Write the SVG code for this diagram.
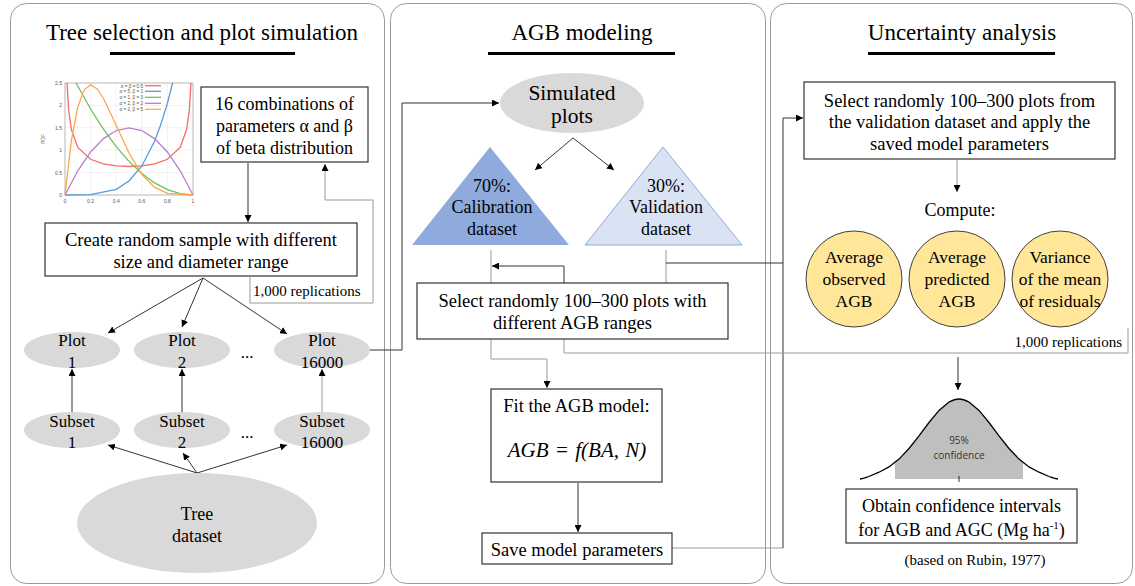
<svg xmlns="http://www.w3.org/2000/svg" width="1135" height="586" viewBox="0 0 1135 586">
<defs>
<marker id="ah" markerWidth="7" markerHeight="7" refX="7" refY="3.5" orient="auto" markerUnits="userSpaceOnUse"><path d="M0,0 L7,3.5 L0,7 z" fill="#000"/></marker>
<style>
.panel{fill:#fff;stroke:#9a9a9a;stroke-width:1}
.h{font-family:"Liberation Serif",serif;font-size:23px;fill:#000;text-anchor:middle}
.t{font-family:"Liberation Serif",serif;font-size:18px;fill:#000;text-anchor:middle}
.tb{font-family:"Liberation Serif",serif;font-size:18.5px;fill:#000;text-anchor:middle}
.tc{font-family:"Liberation Serif",serif;font-size:17.5px;fill:#000;text-anchor:middle}
.tp{font-family:"Liberation Serif",serif;font-size:17px;fill:#000;text-anchor:middle}
.sm{font-family:"Liberation Serif",serif;font-size:15px;fill:#000}
.box{fill:#fff;stroke:#333;stroke-width:1.2}
.ell{fill:#d9d9d9}
.circ{fill:#ffe699;stroke:#404040;stroke-width:1}
.c{fill:none;stroke:#333;stroke-width:1}
.cg{fill:none;stroke:#9a9a9a;stroke-width:1}
.ul{stroke:#000;stroke-width:3}
.ax{font-family:"Liberation Sans",sans-serif;font-size:5px;fill:#555}
.grid{stroke:#e6e6e6;stroke-width:0.5}
.curve{fill:none;stroke-width:1.3}
</style>
</defs>
<rect width="1135" height="586" fill="#fff"/>

<g id="panels">
<rect class="panel" x="10.5" y="3.5" width="374" height="580" rx="16"/>
<rect class="panel" x="390.5" y="3.5" width="375" height="580" rx="16"/>
<rect class="panel" x="770.5" y="3.5" width="362" height="580" rx="16"/>
<text class="h" x="202" y="40">Tree selection and plot simulation</text>
<line class="ul" x1="110" y1="53.5" x2="295" y2="53.5"/>
<text class="h" x="582" y="40">AGB modeling</text>
<line class="ul" x1="488" y1="53.5" x2="675" y2="53.5"/>
<text class="h" x="962" y="40">Uncertainty analysis</text>
<line class="ul" x1="868" y1="53.5" x2="1055" y2="53.5"/>
</g>

<g id="beta-chart">
<g class="grid">
<line x1="90.6" y1="83" x2="90.6" y2="195"/><line x1="116.2" y1="83" x2="116.2" y2="195"/>
<line x1="141.8" y1="83" x2="141.8" y2="195"/><line x1="167.4" y1="83" x2="167.4" y2="195"/>
<line x1="65" y1="105.4" x2="193" y2="105.4"/><line x1="65" y1="127.8" x2="193" y2="127.8"/>
<line x1="65" y1="150.2" x2="193" y2="150.2"/><line x1="65" y1="172.6" x2="193" y2="172.6"/>
</g>
<rect x="65" y="83" width="128" height="112" fill="none" stroke="#888" stroke-width="0.6"/>
<g class="ax" text-anchor="end">
<text x="62" y="85">2.5</text><text x="62" y="107">2</text><text x="62" y="130">1.5</text>
<text x="62" y="152">1</text><text x="62" y="175">0.5</text><text x="62" y="197">0</text>
</g>
<g class="ax" text-anchor="middle">
<text x="65" y="203">0</text><text x="90.6" y="203">0.2</text><text x="116.2" y="203">0.4</text>
<text x="141.8" y="203">0.6</text><text x="167.4" y="203">0.8</text><text x="193" y="203">1</text>
<text x="0" y="0" transform="translate(45,139) rotate(-90)">PDF</text>
</g>
<polyline class="curve" stroke="#f36b6b" points="67,83 67.6,93.1 68.8,111.4 71.4,129.5 77.8,147.5 90.6,159.3 103.4,163.9 116.2,165.9 129,166.5 141.8,165.9 154.6,163.9 167.4,159.3 180.2,147.5 186.6,129.5 189.2,111.4 190.4,93.1 191,83"/>
<polyline class="curve" stroke="#5b9bd5" points="65,195 90.6,194.6 116.2,189.3 129,181 141.8,166 154.6,141.2 161,124.1 167.4,103.2 172.6,83"/>
<polyline class="curve" stroke="#6fbf5f" points="76.1,83 90.6,109 103.4,129.1 116.2,146.6 129,161.4 141.8,173.5 154.6,182.9 167.4,189.6 180.2,193.7 193,195"/>
<polyline class="curve" stroke="#b57fd0" points="65,195 77.8,170.8 90.6,152 103.4,138.6 116.2,130.5 129,127.8 141.8,130.5 154.6,138.6 167.4,152 180.2,170.8 193,195"/>
<polyline class="curve" stroke="#ffa64d" points="65,195 71.4,140.3 77.8,106.8 84.2,89.8 90.6,84.9 97,88.7 103.4,98.2 116.2,125.3 129,153 141.8,174.3 154.6,187.4 167.4,193.3 193,195"/>
<g class="ax" text-anchor="end" style="font-size:4.6px">
<text x="143" y="87.5">α = β = 0.5</text>
<text x="143" y="93">α = 5, β = 1</text>
<text x="143" y="99">α = 1, β = 3</text>
<text x="143" y="105">α = 2, β = 2</text>
<text x="143" y="111">α = 2, β = 5</text>
</g>
<line x1="145" y1="85.7" x2="161" y2="85.7" stroke="#f36b6b" stroke-width="1.3"/>
<line x1="145" y1="91.3" x2="161" y2="91.3" stroke="#5b9bd5" stroke-width="1.3"/>
<line x1="145" y1="97.3" x2="161" y2="97.3" stroke="#6fbf5f" stroke-width="1.3"/>
<line x1="145" y1="103.3" x2="161" y2="103.3" stroke="#b57fd0" stroke-width="1.3"/>
<line x1="145" y1="109.3" x2="161" y2="109.3" stroke="#ffa64d" stroke-width="1.3"/>
</g>

<g id="connectors">
<path class="c" d="M248,163 L248,222" marker-end="url(#ah)"/>
<path class="cg" d="M250,277 L250,303 L373,303 L373,200 L325,200 L325,164" marker-end="url(#ah)"/>
<path class="c" d="M203,278 L108,333" marker-end="url(#ah)"/>
<path class="c" d="M203,278 L182,327" marker-end="url(#ah)"/>
<path class="c" d="M203,278 L287,334" marker-end="url(#ah)"/>
<path class="c" d="M72,412 L72,369" marker-end="url(#ah)"/>
<path class="c" d="M182,412 L182,369" marker-end="url(#ah)"/>
<path class="cg" d="M322,412 L322,369" marker-end="url(#ah)"/>
<path class="c" d="M197,473 L108,445" marker-end="url(#ah)"/>
<path class="c" d="M197,473 L183,453" marker-end="url(#ah)"/>
<path class="c" d="M197,473 L287,445" marker-end="url(#ah)"/>
<path class="c" d="M370,350 L402,350 L402,103 L499,103" marker-end="url(#ah)"/>
<path class="c" d="M573,138 L535,170" marker-end="url(#ah)"/>
<path class="c" d="M573,138 L614,170" marker-end="url(#ah)"/>
<path class="cg" d="M491,250 L491,283"/>
<path class="c" d="M564,283 L564,266 L492,266" marker-end="url(#ah)"/>
<path class="cg" d="M666,250 L666,283"/>
<path class="c" d="M666,263 L783,263"/>
<path class="cg" d="M491,339 L491,359 L547,359 L547,388" marker-end="url(#ah)"/>
<path class="c" d="M578,483 L578,532" marker-end="url(#ah)"/>
<path class="cg" d="M672,548 L783,548"/>
<path class="c" d="M783,548 L783,118 L803,118" marker-end="url(#ah)"/>
<path class="cg" d="M564,339 L564,353 L1128,353 L1128,328"/>
<path class="cg" d="M957,160 L957,192" marker-end="url(#ah)"/>
<path class="c" d="M958,357 L958,390" marker-end="url(#ah)"/>
</g>

<g id="n-combinations">
<rect class="box" x="201" y="87" width="167" height="75"/>
<text class="t" x="284.5" y="110">16 combinations of</text>
<text class="t" x="284.5" y="132">parameters α and β</text>
<text class="t" x="284.5" y="154">of beta distribution</text>
</g>
<g id="n-create">
<rect class="box" x="45" y="223" width="312" height="53"/>
<text class="tb" x="201" y="246">Create random sample with different</text>
<text class="tb" x="201" y="268">size and diameter range</text>
</g>
<text class="sm" x="253" y="296">1,000 replications</text>

<g id="n-plot1"><ellipse class="ell" cx="72" cy="350" rx="48" ry="18"/>
<text class="tp" x="72" y="346">Plot</text><text class="tp" x="72" y="368">1</text></g>
<g id="n-plot2"><ellipse class="ell" cx="182" cy="350" rx="48" ry="18"/>
<text class="tp" x="182" y="346">Plot</text><text class="tp" x="182" y="368">2</text></g>
<text class="tp" x="247" y="358">...</text>
<g id="n-plot16000"><ellipse class="ell" cx="322" cy="350" rx="48" ry="18"/>
<text class="tp" x="322" y="346">Plot</text><text class="tp" x="322" y="368">16000</text></g>

<g id="n-subset1"><ellipse class="ell" cx="72" cy="430" rx="48" ry="18"/>
<text class="tp" x="72" y="427">Subset</text><text class="tp" x="72" y="448">1</text></g>
<g id="n-subset2"><ellipse class="ell" cx="182" cy="430" rx="48" ry="18"/>
<text class="tp" x="182" y="427">Subset</text><text class="tp" x="182" y="448">2</text></g>
<text class="tp" x="247" y="438">...</text>
<g id="n-subset16000"><ellipse class="ell" cx="322" cy="430" rx="48" ry="18"/>
<text class="tp" x="322" y="427">Subset</text><text class="tp" x="322" y="448">16000</text></g>

<g id="n-tree"><ellipse class="ell" cx="197" cy="523" rx="120" ry="50"/>
<text class="t" x="197" y="520">Tree</text><text class="t" x="197" y="542">dataset</text></g>

<g id="n-simulated"><ellipse class="ell" cx="572" cy="103" rx="72" ry="30"/>
<text class="t" x="572" y="100" style="font-size:21.5px">Simulated</text><text class="t" x="572" y="123" style="font-size:21.5px">plots</text></g>

<g id="n-calibration"><polygon points="412,245 490,147 569,245" fill="#8faadc"/>
<text class="t" x="492" y="192">70%:</text><text class="t" x="492" y="213">Calibration</text><text class="t" x="492" y="235">dataset</text></g>
<g id="n-validation"><polygon points="585,245 663,147 742,245" fill="#dae3f3" stroke="#8faadc" stroke-width="1"/>
<text class="t" x="666" y="192">30%:</text><text class="t" x="666" y="213">Validation</text><text class="t" x="666" y="235">dataset</text></g>

<g id="n-select-mid">
<rect class="box" x="417" y="283" width="311" height="56"/>
<text class="tb" x="572.5" y="307">Select randomly 100–300 plots with</text>
<text class="tb" x="572.5" y="329">different AGB ranges</text>
</g>
<g id="n-fit">
<rect class="box" x="491" y="389" width="171" height="93" stroke="#666"/>
<text class="tb" x="576.5" y="412">Fit the AGB model:</text>
<text class="t" x="577" y="457" style="font-size:21px;font-style:italic;word-spacing:1px">AGB = f(BA, N)</text>
</g>
<g id="n-save">
<rect class="box" x="482" y="533" width="190" height="31"/>
<text class="tb" x="577" y="556">Save model parameters</text>
</g>

<g id="n-select-right">
<rect class="box" x="804" y="82" width="311" height="77"/>
<text class="tb" x="959.5" y="107">Select randomly 100–300 plots from</text>
<text class="tb" x="959.5" y="128">the validation dataset and apply the</text>
<text class="tb" x="959.5" y="150">saved model parameters</text>
</g>
<text class="t" x="960" y="216">Compute:</text>
<g id="n-avg-obs"><circle class="circ" cx="854" cy="279" r="48"/>
<text class="tc" x="854" y="263">Average</text><text class="tc" x="854" y="285">observed</text><text class="tc" x="854" y="307">AGB</text></g>
<g id="n-avg-pred"><circle class="circ" cx="957" cy="279" r="48"/>
<text class="tc" x="957" y="263">Average</text><text class="tc" x="957" y="285">predicted</text><text class="tc" x="957" y="307">AGB</text></g>
<g id="n-variance"><circle class="circ" cx="1060" cy="279" r="48"/>
<text class="tc" x="1060" y="263">Variance</text><text class="tc" x="1060" y="285">of the mean</text><text class="tc" x="1060" y="307">of residuals</text></g>
<text class="sm" x="1122" y="347" text-anchor="end">1,000 replications</text>

<g id="n-bell">
<path d="M895,479 L895,462.5 L899,459.1 L909,448.5 L919,435.9 L929,422.5 L939,410.4 L949,402 L959,399 L969,402 L979,410.4 L989,422.5 L999,435.9 L1009,448.5 L1019,459.1 L1023,462.5 L1023,479 Z" fill="#bfbfbf"/>
<path d="M860,479 C864,478.5 866,477.5 869,476.5 L879,472.2 L889,466.9 L899,459.1 L909,448.5 L919,435.9 L929,422.5 L939,410.4 L949,402 C953,400 956,399 959,399 C962,399 965,400 969,402 L979,410.4 L989,422.5 L999,435.9 L1009,448.5 L1019,459.1 L1029,466.9 L1039,472.2 L1049,476.5 C1052,477.5 1054,478.5 1058,479" fill="none" stroke="#000" stroke-width="1.3"/>
<line x1="959" y1="476" x2="959" y2="482" stroke="#000" stroke-width="0.8"/>
<text x="959" y="444" text-anchor="middle" font-family="'Open Sans','Liberation Sans',sans-serif" font-size="10" fill="#333">95%</text>
<text x="959" y="459" text-anchor="middle" font-family="'Open Sans','Liberation Sans',sans-serif" font-size="10" fill="#333">confidence</text>
</g>
<g id="n-obtain">
<rect class="box" x="846" y="489" width="231" height="54" stroke="#666"/>
<text class="t" x="961.5" y="512">Obtain confidence intervals</text>
<text class="t" x="961.5" y="536">for AGB and AGC (Mg ha<tspan style="font-size:11px" dy="-7">-1</tspan><tspan dy="7">)</tspan></text>
</g>
<text class="sm" x="975" y="565" text-anchor="middle">(based on Rubin, 1977)</text>
</svg>
